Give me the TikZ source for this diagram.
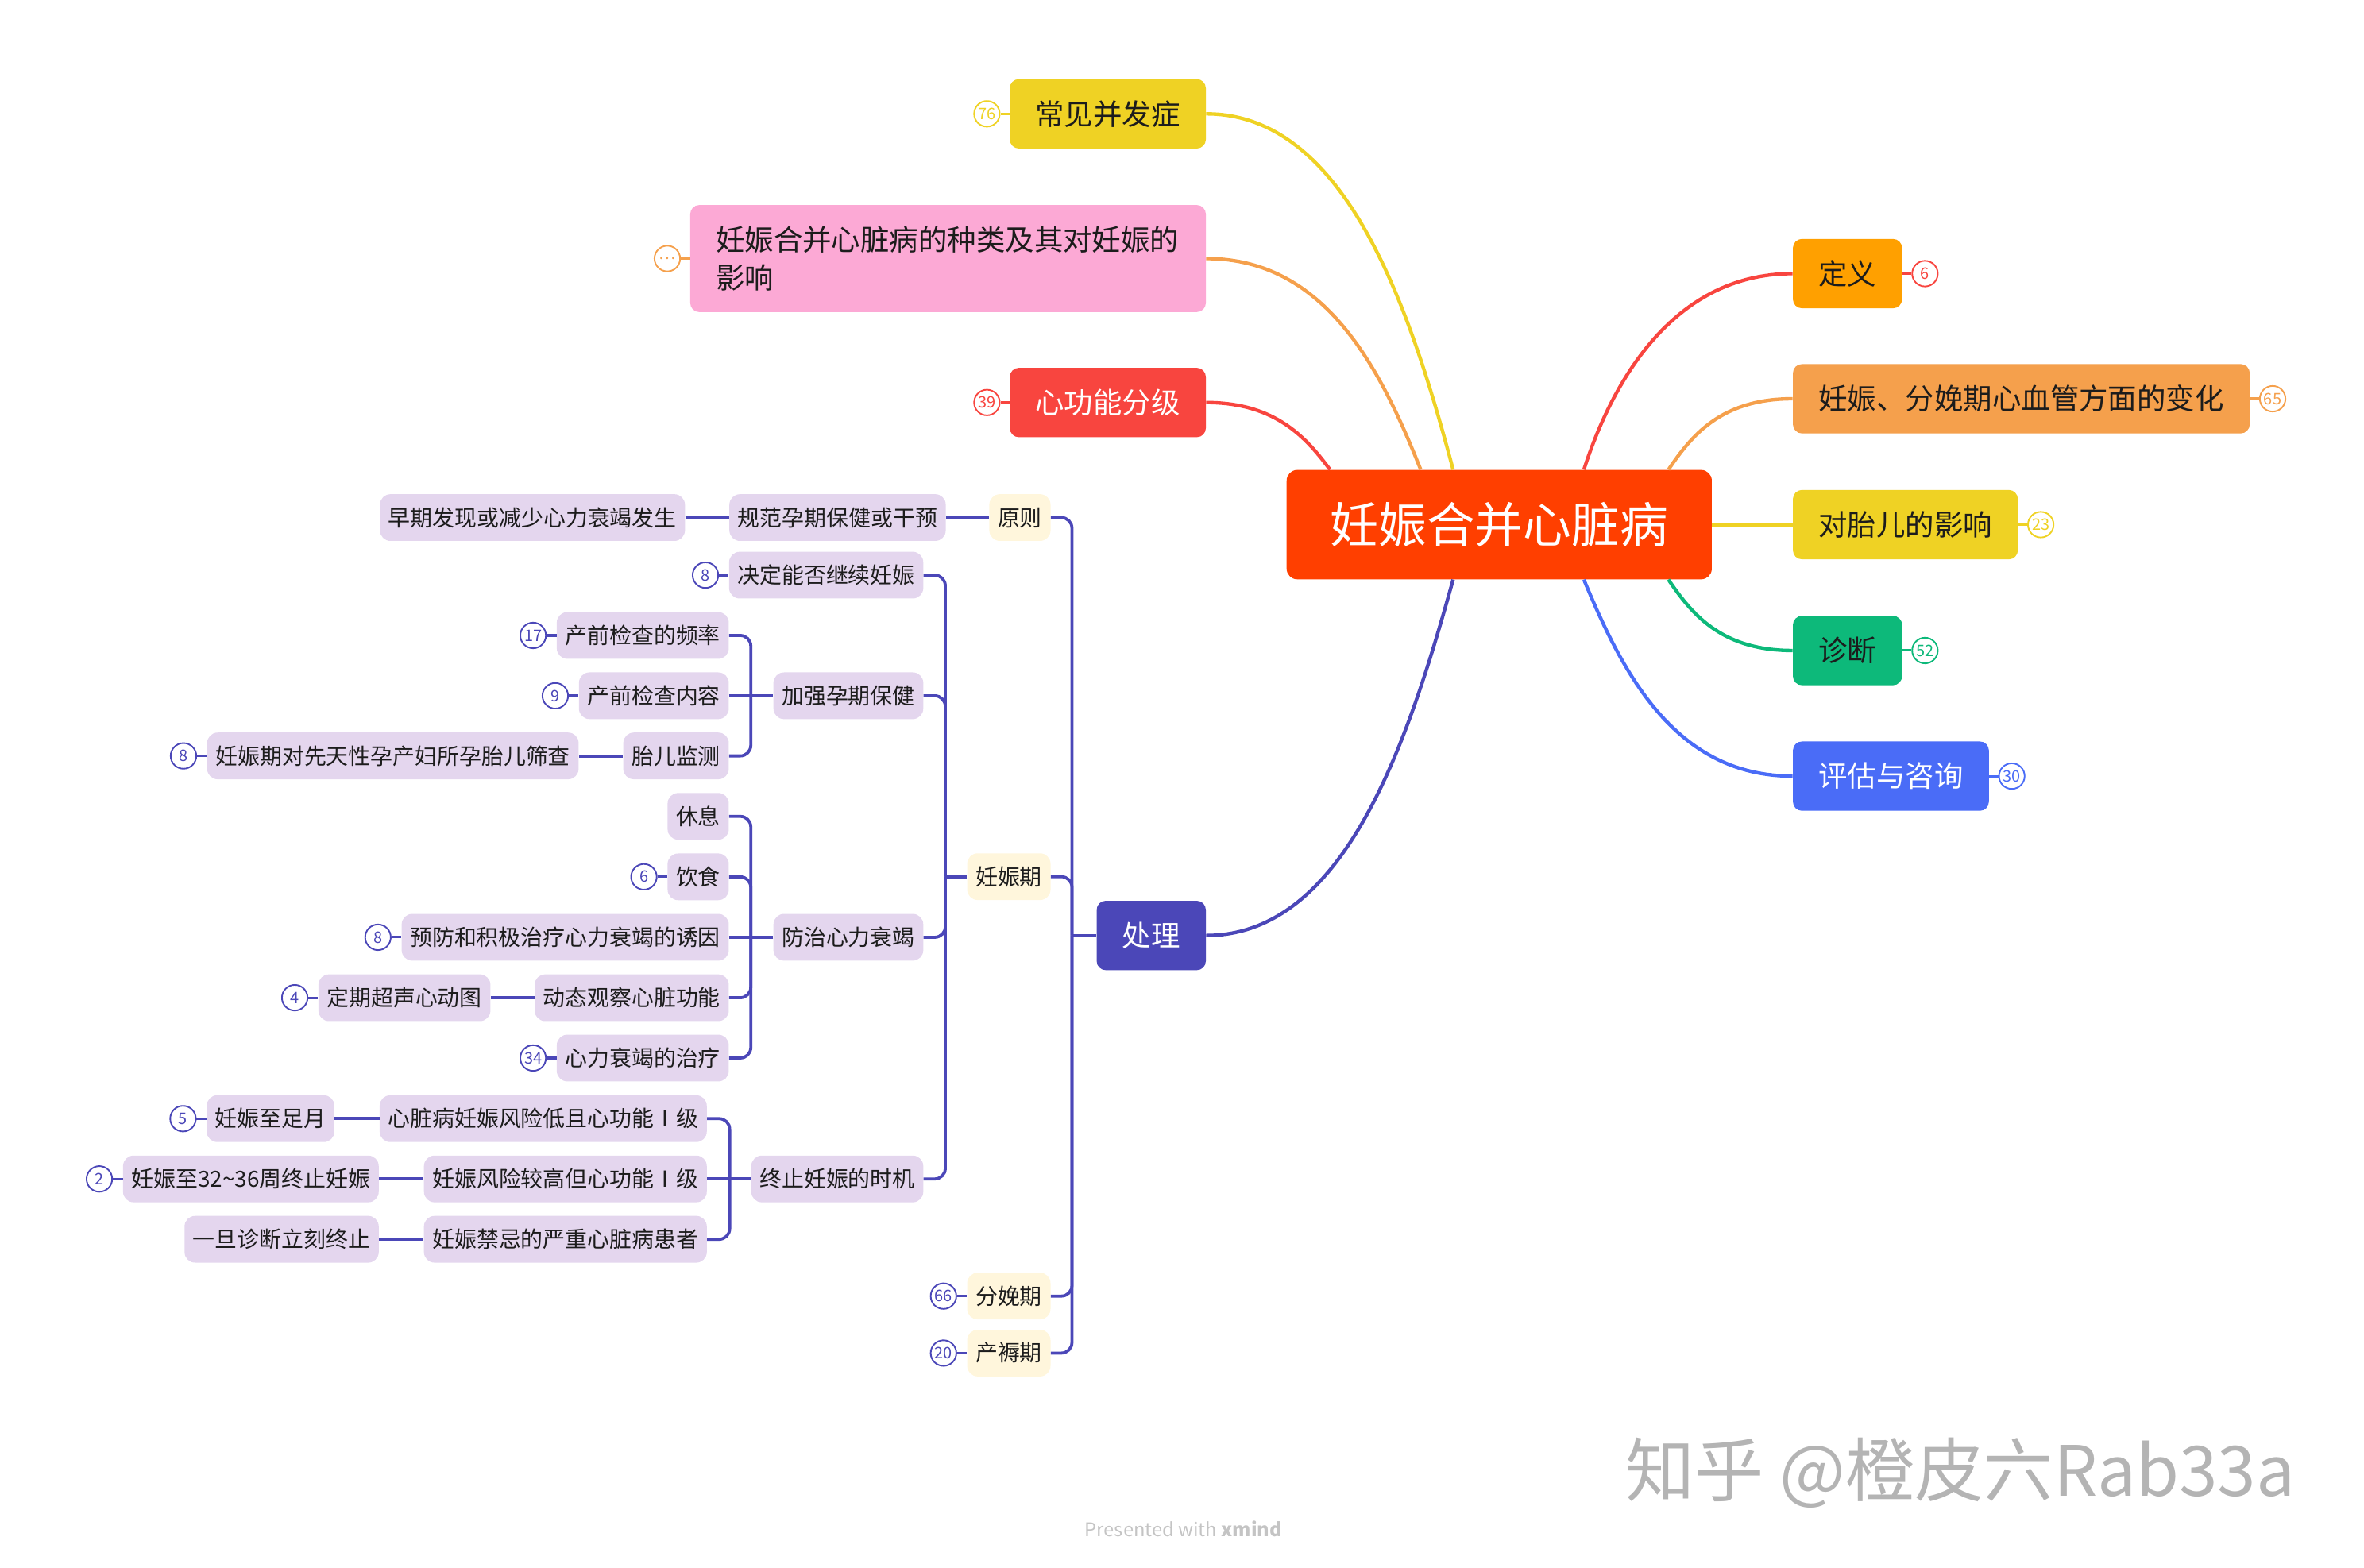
\documentclass[tikz,border=0pt]{standalone}
\usepackage{fontspec}
\usepackage{xcolor}
\usepackage{tikz}
\setmainfont{Noto Sans CJK SC}

\definecolor{rootred}{HTML}{FF3F00}
\definecolor{amber}{HTML}{FFA000}
\definecolor{apricot}{HTML}{F5A04C}
\definecolor{lemon}{HTML}{EFD224}
\definecolor{jade}{HTML}{0DB97A}
\definecolor{azure}{HTML}{4A6CF7}
\definecolor{scarlet}{HTML}{F8453F}
\definecolor{rosepink}{HTML}{FCA9D5}
\definecolor{indigo}{HTML}{4B47B8}
\definecolor{lilac}{HTML}{E4D6EE}
\definecolor{cream}{HTML}{FFF6DC}
\definecolor{ink}{HTML}{1C1C1C}
\definecolor{wmgray}{HTML}{B4B4B4}
\definecolor{footgray}{HTML}{C4C4C4}

\begin{document}
\begin{tikzpicture}[x=1pt, y=-1pt,
    root/.style = {fill=rootred, text=white, rounded corners=7pt, minimum width=282pt, minimum height=72.5pt, inner sep=0pt, font=\fontsize{32}{36}\selectfont},
    topic/.style = {fill=#1, rounded corners=6pt, inner xsep=17pt, inner ysep=0pt, minimum height=46pt, text=ink, font=\fontsize{19.2}{25}\selectfont},
    sub/.style = {fill=lilac, rounded corners=7pt, inner xsep=5.6pt, inner ysep=0pt, minimum height=31pt, text=ink, font=\fontsize{14.7}{17}\selectfont},
    stage/.style = {sub, fill=cream},
    badge/.style = {circle, draw=#1, text=#1, fill=white, line width=1pt, inner sep=0pt, minimum size=17pt, font=\fontsize{10.5}{11}\selectfont},
    branch/.style = {draw=#1, line width=2.3pt},
    cntline/.style = {draw=#1, line width=1.6pt},
    tline/.style = {draw=indigo, line width=2pt, rounded corners=7pt}]
        \useasboundingbox (0,0) rectangle (1568,1040);

        % centre
        \node[root] (root) at (994.4,348) {妊娠合并心脏病};

        % right side
        \node[topic=amber, anchor=west] (defn) at (1189,181.5) {定义};
        \node[topic=apricot, anchor=west, minimum width=303pt] (change) at (1189,264.5) {妊娠、分娩期心血管方面的变化};
        \node[topic=lemon, anchor=west] (fetus) at (1189,348) {对胎儿的影响};
        \node[topic=jade, anchor=west] (diag) at (1189,431.5) {诊断};
        \node[topic=azure, anchor=west, text=white] (eval) at (1189,514.8) {评估与咨询};

        % left side
        \node[topic=lemon, anchor=east] (compl) at (800,75.5) {常见并发症};
        \node[topic=rosepink, anchor=east, text width=308pt, align=left, minimum height=71pt] (kinds) at (800,171.5) {妊娠合并心脏病的种类及其对妊娠的\\影响};
        \node[topic=scarlet, anchor=east, text=white] (grade) at (800,267) {心功能分级};
        \node[topic=indigo, anchor=east, text=white] (treat) at (800,620.5) {处理};

        \draw[branch=lemon] (root.130) .. controls +(-29,-109) and +(92,0) .. (compl.east);
        \draw[branch=apricot] (root.145) .. controls +(-26,-65) and +(80,0) .. (kinds.east);
        \draw[branch=scarlet] (root.162) .. controls +(-15,-20) and +(47,0) .. (grade.east);
        \draw[branch=indigo] (root.230) .. controls +(-30,108) and +(92,0) .. (treat.east);
        \draw[branch=scarlet] (root.33) .. controls +(20,-62) and +(-77,0) .. (defn.west);
        \draw[branch=apricot] (root.18) .. controls +(15,-22) and +(-48,0) .. (change.west);
        \draw[branch=lemon] (root.east) -- (fetus.west);
        \draw[branch=jade] (root.342) .. controls +(15,22) and +(-48,0) .. (diag.west);
        \draw[branch=azure] (root.327) .. controls +(25,60) and +(-79,0) .. (eval.west);

        \node[badge=scarlet] (defn-n) at ([xshift=15pt]defn.east) {6};
        \node[badge=apricot] (change-n) at ([xshift=15pt]change.east) {65};
        \node[badge=lemon] (fetus-n) at ([xshift=15pt]fetus.east) {23};
        \node[badge=jade] (diag-n) at ([xshift=15pt]diag.east) {52};
        \node[badge=azure] (eval-n) at ([xshift=15pt]eval.east) {30};
        \node[badge=lemon] (compl-n) at ([xshift=-15pt]compl.west) {76};
        \node[badge=apricot] (kinds-n) at ([xshift=-15pt]kinds.west) {…};
        \node[badge=scarlet] (grade-n) at ([xshift=-15pt]grade.west) {39};
        \draw[cntline=scarlet] (defn) -- (defn-n);
        \draw[cntline=apricot] (change) -- (change-n);
        \draw[cntline=lemon] (fetus) -- (fetus-n);
        \draw[cntline=jade] (diag) -- (diag-n);
        \draw[cntline=azure] (eval) -- (eval-n);
        \draw[cntline=lemon] (compl) -- (compl-n);
        \draw[cntline=apricot] (kinds) -- (kinds-n);
        \draw[cntline=scarlet] (grade) -- (grade-n);

        % 处理
        \node[stage, anchor=east] (p1) at (697,343.3) {原则};
        \node[sub, anchor=east] (p1a) at (627.5,343.3) {规范孕期保健或干预};
        \node[sub, anchor=east] (p1b) at (454.5,343.3) {早期发现或减少心力衰竭发生};
        \node[stage, anchor=east] (p2) at (697,581.5) {妊娠期};
        \node[stage, anchor=east] (p3) at (697,859.7) {分娩期};
        \node[stage, anchor=east] (p4) at (697,897.5) {产褥期};

        \node[sub, anchor=east] (q1) at (612.6,381.5) {决定能否继续妊娠};
        \node[sub, anchor=east] (q2) at (612.6,461.5) {加强孕期保健};
        \node[sub, anchor=east] (q3) at (612.6,621.7) {防治心力衰竭};
        \node[sub, anchor=east] (q4) at (612.6,782) {终止妊娠的时机};

        \node[sub, anchor=east] (r1) at (483.6,421.5) {产前检查的频率};
        \node[sub, anchor=east] (r2) at (483.6,461.5) {产前检查内容};
        \node[sub, anchor=east] (r3) at (483.6,501.4) {胎儿监测};
        \node[sub, anchor=east] (r3a) at (384,501.4) {妊娠期对先天性孕产妇所孕胎儿筛查};

        \node[sub, anchor=east] (s1) at (483.6,541.5) {休息};
        \node[sub, anchor=east] (s2) at (483.6,581.6) {饮食};
        \node[sub, anchor=east] (s3) at (483.6,621.7) {预防和积极治疗心力衰竭的诱因};
        \node[sub, anchor=east] (s4) at (483.6,661.8) {动态观察心脏功能};
        \node[sub, anchor=east] (s4a) at (325.5,661.8) {定期超声心动图};
        \node[sub, anchor=east] (s5) at (483.6,701.8) {心力衰竭的治疗};

        \node[sub, anchor=east] (t1) at (469,742) {心脏病妊娠风险低且心功能Ⅰ级};
        \node[sub, anchor=east] (t1a) at (222,742) {妊娠至足月};
        \node[sub, anchor=east] (t2) at (469,782) {妊娠风险较高但心功能Ⅰ级};
        \node[sub, anchor=east] (t2a) at (251.4,782) {妊娠至32\textasciitilde36周终止妊娠};
        \node[sub, anchor=east] (t3) at (469,822) {妊娠禁忌的严重心脏病患者};
        \node[sub, anchor=east] (t3a) at (251.4,822) {一旦诊断立刻终止};

        % bracket joints
        \coordinate (j0) at (711,620.5);
        \coordinate (j2) at (627,581.5);
        \coordinate (jq2) at (498,461.5);
        \coordinate (jq3) at (498,621.7);
        \coordinate (jq4) at (484,782);

        \draw[tline] (treat.west) -- (j0);
        \draw[tline] (p1.east) -| (j0);
        \draw[tline] (p2.east) -| (j0);
        \draw[tline] (p3.east) -| (j0);
        \draw[tline] (p4.east) -| (j0);
        \draw[tline] (p1a) -- (p1);
        \draw[tline] (p1b) -- (p1a);

        \draw[tline] (p2.west) -- (j2);
        \draw[tline] (q1.east) -| (j2);
        \draw[tline] (q2.east) -| (j2);
        \draw[tline] (q3.east) -| (j2);
        \draw[tline] (q4.east) -| (j2);

        \draw[tline] (q2.west) -- (jq2);
        \draw[tline] (r1.east) -| (jq2);
        \draw[tline] (r2.east) -- (jq2);
        \draw[tline] (r3.east) -| (jq2);
        \draw[tline] (r3a) -- (r3);

        \draw[tline] (q3.west) -- (jq3);
        \draw[tline] (s1.east) -| (jq3);
        \draw[tline] (s2.east) -| (jq3);
        \draw[tline] (s3.east) -- (jq3);
        \draw[tline] (s4.east) -| (jq3);
        \draw[tline] (s5.east) -| (jq3);
        \draw[tline] (s4a) -- (s4);

        \draw[tline] (q4.west) -- (jq4);
        \draw[tline] (t1.east) -| (jq4);
        \draw[tline] (t2.east) -- (jq4);
        \draw[tline] (t3.east) -| (jq4);
        \draw[tline] (t1a) -- (t1);
        \draw[tline] (t2a) -- (t2);
        \draw[tline] (t3a) -- (t3);

        % counts
        \node[badge=indigo] (p3-n) at ([xshift=-15.5pt]p3.west) {66};
        \node[badge=indigo] (p4-n) at ([xshift=-15.5pt]p4.west) {20};
        \node[badge=indigo] (q1-n) at ([xshift=-15.5pt]q1.west) {8};
        \node[badge=indigo] (r1-n) at ([xshift=-15.5pt]r1.west) {17};
        \node[badge=indigo] (r2-n) at ([xshift=-15.5pt]r2.west) {9};
        \node[badge=indigo] (r3a-n) at ([xshift=-15.5pt]r3a.west) {8};
        \node[badge=indigo] (s2-n) at ([xshift=-15.5pt]s2.west) {6};
        \node[badge=indigo] (s3-n) at ([xshift=-15.5pt]s3.west) {8};
        \node[badge=indigo] (s4a-n) at ([xshift=-15.5pt]s4a.west) {4};
        \node[badge=indigo] (s5-n) at ([xshift=-15.5pt]s5.west) {34};
        \node[badge=indigo] (t1a-n) at ([xshift=-15.5pt]t1a.west) {5};
        \node[badge=indigo] (t2a-n) at ([xshift=-15.5pt]t2a.west) {2};
        \draw[cntline=indigo] (p3-n) -- (p3);
        \draw[cntline=indigo] (p4-n) -- (p4);
        \draw[cntline=indigo] (q1-n) -- (q1);
        \draw[cntline=indigo] (r1-n) -- (r1);
        \draw[cntline=indigo] (r2-n) -- (r2);
        \draw[cntline=indigo] (r3a-n) -- (r3a);
        \draw[cntline=indigo] (s2-n) -- (s2);
        \draw[cntline=indigo] (s3-n) -- (s3);
        \draw[cntline=indigo] (s4a-n) -- (s4a);
        \draw[cntline=indigo] (s5-n) -- (s5);
        \draw[cntline=indigo] (t1a-n) -- (t1a);
        \draw[cntline=indigo] (t2a-n) -- (t2a);

        % watermark and footer
        \node[anchor=west, inner sep=0pt, text=wmgray, font=\fontsize{46}{50}\selectfont] (mark) at (1078,977) {知乎 @橙皮六Rab33a};
        \node[text=footgray, font=\fontsize{12.5}{14}\selectfont] (foot) at (785,1014) {Presented with \textbf{xmind}};
\end{tikzpicture}
\end{document}
